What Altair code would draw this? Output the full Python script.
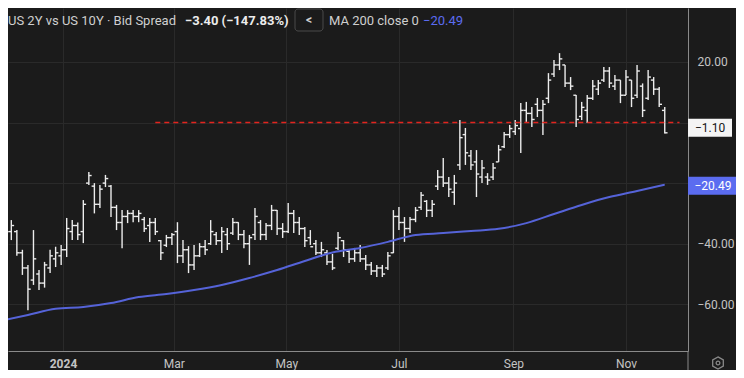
import altair as alt
import pandas as pd

# ---------------- data ----------------
bar_dates = pd.date_range("2023-11-28", periods=121, freq="3D")
hi = [-43.7, -33.8, -32.2, -35.5, -42.0, -47.0, -35.5, -48.7, -46.0, -42.0,
      -41.0, -40.4, -31.5, -32.2, -33.0, -25.6, -16.3, -20.0, -20.6, -17.3,
      -20.6, -27.2, -28.9, -28.9, -28.9, -28.9, -31.2, -31.5, -31.5, -38.8,
      -37.1, -36.5, -32.9, -38.8, -40.8, -40.4, -39.8, -38.8, -32.2, -36.1,
      -34.5, -34.8, -31.5, -32.9, -35.5, -37.1, -28.2, -32.2, -33.2, -27.2,
      -28.9, -33.2, -26.6, -28.9, -31.2, -34.5, -35.5, -38.8, -39.4, -42.1,
      -43.4, -36.1, -38.8, -42.1, -41.4, -40.4, -43.7, -46.0, -47.0, -47.0,
      -42.7, -28.9, -27.9, -31.2, -31.2, -27.9, -22.9, -25.6, -25.6, -15.7,
      -11.7, -18.0, -17.3, 0.8, -1.8, -9.1, -9.1, -12.4, -16.7, -13.4,
      -7.4, -3.1, -0.8, 0.8, 6.4, 6.8, 5.1, 8.1, 7.4, 16.3,
      20.6, 22.9, 19.0, 15.0, 9.1, 6.8, 9.1, 14.0, 14.0, 18.3,
      18.3, 15.7, 14.0, 17.3, 14.0, 19.0, 12.9, 17.3, 15.0, 11.7,
      5.1]
lo = [-51.0, -43.7, -38.8, -44.0, -50.3, -62.0, -53.6, -55.3, -54.5, -49.7,
      -47.7, -47.0, -44.4, -38.8, -38.8, -39.8, -20.6, -30.0, -28.2, -21.3,
      -31.2, -35.5, -41.5, -33.2, -32.9, -32.9, -36.1, -39.4, -37.1, -45.4,
      -41.1, -40.4, -46.4, -46.4, -49.7, -48.7, -44.4, -43.7, -40.4, -40.4,
      -43.1, -42.1, -37.1, -38.8, -41.5, -47.0, -38.8, -38.8, -38.8, -35.5,
      -37.1, -38.1, -36.5, -36.5, -37.1, -41.1, -40.4, -43.7, -44.4, -47.0,
      -48.7, -42.1, -44.4, -46.4, -46.0, -46.0, -48.7, -50.3, -51.0, -51.0,
      -48.7, -43.1, -35.5, -39.4, -36.5, -32.9, -28.9, -31.2, -31.2, -22.3,
      -21.3, -24.6, -27.2, -15.7, -14.0, -15.7, -24.6, -20.0, -20.6, -19.0,
      -13.0, -8.4, -5.1, -4.1, -10.1, 0.2, -1.5, 1.8, -4.1, 6.4,
      15.0, 17.3, 11.7, 10.7, -1.5, 0.8, -0.2, 7.4, 9.1, 13.4,
      11.4, 10.7, 6.4, 9.1, 5.1, 8.1, 1.8, 7.4, 9.1, 5.1,
      -3.6]
op = [-49.5, -42, -36, -36, -43, -48, -52, -50, -53, -48,
      -45, -44, -42, -36, -34, -36, -20, -21, -27, -20,
      -21, -28, -33, -31, -30, -31, -32, -34, -33, -39,
      -40.5, -38, -36, -44, -42, -47, -44, -41, -40, -37,
      -39, -37, -36.5, -33, -37, -40, -37, -33, -37, -34,
      -29, -35, -36, -30, -33, -35, -38, -40, -43, -43,
      -46, -41.5, -39, -42.5, -45, -43, -45, -47, -49, -48,
      -48, -43, -31, -33, -35, -32, -28, -26, -29, -21,
      -18, -20, -23, -14, -4, -11, -13, -18, -18, -18,
      -13, -8, -4, -3, -2, 4, 3, 6, 4, 8,
      16, 19, 19, 13, 9, 2, 4, 8, 11, 14,
      17, 12, 14, 9, 14, 9, 12, 8, 14, 11,
      4]
cl = [-44.7, -36, -34, -43, -48, -55, -45, -53, -47, -44,
      -43, -42, -35, -34, -37, -27, -17.5, -27, -22, -18.5,
      -28, -33, -31, -30, -31, -30, -35, -33, -36, -43,
      -38, -37, -44, -42, -47, -44, -41, -42, -36, -39,
      -36, -40, -33, -37, -40, -38, -31, -37, -34, -29,
      -35, -36, -30, -33, -35, -39, -41, -43, -42, -46,
      -48, -38, -42, -45, -43, -45, -47, -49, -48, -50,
      -44, -31, -33, -35, -32, -29, -24, -29, -27, -18,
      -20, -22, -20, -5, -10, -14, -17, -15, -19, -15,
      -9, -4, -2, -1, 4, 3, 1, 4, 6, 14,
      19, 21, 13, 12, 1, 5, 8, 12, 13, 17,
      13, 14, 9, 15, 8, 17, 4, 15, 11, 6,
      -3.4]

ma_dates = pd.date_range("2023-11-28", periods=25, freq="15D")
ma = [-65.5, -63.5, -61.5, -60.9, -59.6, -57.6, -56.6, -55.3, -53.6, -51.3,
      -48.7, -45.7, -42.9, -41.4, -39.4, -37.1, -36.5, -35.8, -35.1, -33.2,
      -30.2, -27.2, -24.6, -22.6, -20.5]

hline_level = 0.0
hline_start = "2024-02-20"
hline_end = "2024-11-30"

tag_values = [-1.7, -20.9]
tag_labels = ["\u22121.10", "\u221220.49"]

y_ticks = [20, 0, -20, -40, -60]
x_tick_months = [1, 3, 5, 7, 9, 11]

header_name = "US 2Y vs US 10Y \u00b7 Bid Spread"
header_value = "\u22123.40 (\u2212147.83%)"
header_ma = "MA 200 close 0"
header_ma_value = "\u221220.49"

# ---------------- tables ----------------
bars = pd.DataFrame({"date": bar_dates, "hi": hi, "lo": lo, "op": op, "cl": cl})
ma_df = pd.DataFrame({"date": ma_dates, "ma": ma})
hl_df = pd.DataFrame({"start": [pd.Timestamp(hline_start)], "end": [pd.Timestamp(hline_end)],
                      "level": [hline_level]})
tag1 = pd.DataFrame({"v": [tag_values[0]], "t": [tag_labels[0]]})
tag2 = pd.DataFrame({"v": [tag_values[1]], "t": [tag_labels[1]]})

FONT = "Roboto"
BAR = "#ececec"
GRID = "#2a2a2a"
AXC = "#8a8a8a"
LAB = "#c4c4c4"

xscale = alt.Scale(domain=[alt.DateTime(year=2023, month=12, date=2, hours=4, minutes=48),
                           alt.DateTime(year=2024, month=12, date=4, hours=14, minutes=24)])
yscale = alt.Scale(domain=[-75.41, 37.79], nice=False, zero=False)

xaxis = alt.Axis(
    values=[alt.DateTime(year=2024, month=m, date=1) for m in x_tick_months],
    labelExpr="month(datum.value)==0 ? '2024' : timeFormat(datum.value, '%b')",
    labelFontWeight={"condition": {"test": "month(datum.value)==0", "value": "bold"}, "value": "normal"},
    grid=True, gridColor=GRID, gridWidth=1,
    domain=True, domainColor=AXC, domainWidth=1,
    ticks=False, labelColor=LAB, labelFontSize=12, labelFont=FONT,
    labelPadding=7, labelFlush=False, title=None,
)
yaxis = alt.Axis(
    orient="right", values=y_ticks,
    labelExpr="datum.value==0 || datum.value==-20 ? '' : format(datum.value, '.2f')",
    grid=True, gridColor=GRID, gridWidth=1,
    domain=True, domainColor=AXC, domainWidth=1,
    ticks=False, labelColor=LAB, labelFontSize=12, labelFont=FONT,
    labelPadding=9, title=None,
)

X = alt.X("date:T", scale=xscale, axis=xaxis)

SW = 1.4
TL = 2.8
hl = alt.Chart(bars).mark_rule(color=BAR, strokeWidth=SW, clip=True).encode(
    x=X, y=alt.Y("lo:Q", scale=yscale, axis=yaxis), y2="hi:Q")
opent = alt.Chart(bars).mark_rule(color=BAR, strokeWidth=SW, xOffset=-TL, x2Offset=0, clip=True).encode(
    x="date:T", x2="date:T", y="op:Q")
closet = alt.Chart(bars).mark_rule(color=BAR, strokeWidth=SW, xOffset=0, x2Offset=TL, clip=True).encode(
    x="date:T", x2="date:T", y="cl:Q")

ma_line = alt.Chart(ma_df).mark_line(color="#5563d8", strokeWidth=2, interpolate="monotone", clip=True).encode(
    x="date:T", y="ma:Q")

red = alt.Chart(hl_df).mark_rule(color="#e3241e", strokeDash=[5, 4], strokeWidth=1.3).encode(
    x="start:T", x2="end:T", y="level:Q")

box1 = alt.Chart(tag1).mark_rect(color="#f4f4f4", yOffset=-9, y2Offset=9).encode(
    x=alt.value(680), x2=alt.value(724), y="v:Q", y2="v:Q")
txt1 = alt.Chart(tag1).mark_text(color="#141414", fontSize=12, font=FONT, align="center",
                                 baseline="middle").encode(x=alt.value(702), y="v:Q", text="t:N")
box2 = alt.Chart(tag2).mark_rect(color="#5b6cf0", yOffset=-9, y2Offset=9).encode(
    x=alt.value(680), x2=alt.value(729), y="v:Q", y2="v:Q")
txt2 = alt.Chart(tag2).mark_text(color="#ffffff", fontSize=12, font=FONT, align="center",
                                 baseline="middle").encode(x=alt.value(705), y="v:Q", text="t:N")

def label(text, x, color, weight="normal", size=13):
    return alt.Chart(pd.DataFrame({"t": [text]})).mark_text(
        color=color, fontSize=size, font=FONT, fontWeight=weight, align="left", baseline="middle"
    ).encode(x=alt.value(x), y=alt.value(12.5), text="t:N")

h1 = label(header_name, 0, "#cfcfcf")
h2 = label(header_value, 177, "#ececec", weight="bold")
h3 = label(header_ma, 321, "#cfcfcf")
h4 = label(header_ma_value, 415, "#5b6cf0")

btn = alt.Chart(pd.DataFrame({"a": [0]})).mark_rect(
    fill="#1b1b1b", stroke="#4a4a4a", strokeWidth=1, cornerRadius=3).encode(
    x=alt.value(287), x2=alt.value(315), y=alt.value(1), y2=alt.value(23))
btn_t = alt.Chart(pd.DataFrame({"t": ["<"]})).mark_text(
    color="#d0d0d0", fontSize=12, font=FONT, fontWeight="bold", align="center", baseline="middle").encode(
    x=alt.value(301), y=alt.value(12), text="t:N")

vext = alt.Chart(pd.DataFrame({"a": [0]})).mark_rule(color=AXC, strokeWidth=1).encode(
    x=alt.value(680), y=alt.value(343), y2=alt.value(362))

hexagon = "M 0 -1 L 0.866 -0.5 L 0.866 0.5 L 0 1 L -0.866 0.5 L -0.866 -0.5 Z"
icon = alt.Chart(pd.DataFrame({"a": [0]})).mark_point(
    shape=hexagon, size=150, filled=False, stroke="#b8b8b8", strokeWidth=1.3).encode(
    x=alt.value(710), y=alt.value(355))
icon_c = alt.Chart(pd.DataFrame({"a": [0]})).mark_point(
    shape="circle", size=14, filled=False, stroke="#b8b8b8", strokeWidth=1.2).encode(
    x=alt.value(710), y=alt.value(355))

chart = alt.layer(
    hl, opent, closet, ma_line, red, box1, txt1, box2, txt2,
    h1, h2, h3, h4, btn, btn_t, vext, icon, icon_c
).properties(
    width=680, height=343,
    autosize=alt.AutoSizeParams(type="none"),
    padding={"left": 0, "top": 0, "right": 48, "bottom": 19},
).configure(background="#1b1b1b").configure_view(strokeWidth=0)

chart.save("out.html", embed_options={"renderer": "svg", "actions": False})
